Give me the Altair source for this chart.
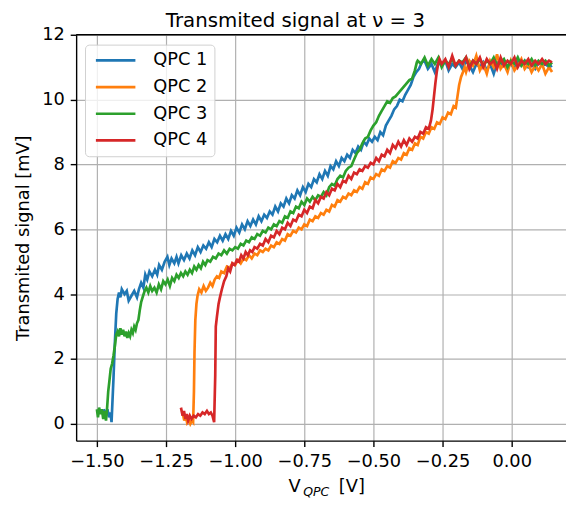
import altair as alt
import pandas as pd

SERIES = ["QPC 1", "QPC 2", "QPC 3", "QPC 4"]
COLORS = ["#1f77b4", "#ff7f0e", "#2ca02c", "#d62728"]
X_TICKS = [-1.5, -1.25, -1.0, -0.75, -0.5, -0.25, 0.0]
Y_TICKS = [0, 2, 4, 6, 8, 10, 12]
TITLE = "Transmited signal at ν = 3"

# ---- QPC 1 (blue) rising part ----
QPC1_V = [-1.475, -1.468, -1.462, -1.456, -1.451, -1.447, -1.440, -1.435, -1.430, -1.425,
          -1.420, -1.415, -1.410, -1.400, -1.392, -1.385, -1.375, -1.365, -1.355, -1.348,
          -1.340, -1.332, -1.325, -1.318, -1.310, -1.300, -1.290, -1.282, -1.275, -1.265,
          -1.255, -1.245, -1.238, -1.230, -1.220, -1.212, -1.205, -1.195, -1.185, -1.175,
          -1.165, -1.155, -1.145, -1.135, -1.125, -1.115, -1.105, -1.095, -1.085, -1.075,
          -1.065, -1.055, -1.045, -1.035, -1.025, -1.015, -1.005, -0.995, -0.985, -0.975,
          -0.965, -0.955, -0.945, -0.935, -0.925, -0.915, -0.905, -0.895, -0.885, -0.875,
          -0.865, -0.855, -0.845, -0.835, -0.825, -0.815, -0.805, -0.795, -0.785, -0.775,
          -0.765, -0.755, -0.745, -0.735, -0.725, -0.715, -0.705, -0.695, -0.685, -0.675,
          -0.665, -0.655, -0.645, -0.635, -0.625, -0.615, -0.605, -0.595, -0.585, -0.575,
          -0.565, -0.555, -0.545, -0.535, -0.525, -0.515, -0.505, -0.495, -0.485, -0.475,
          -0.465, -0.455, -0.445, -0.435, -0.425, -0.415, -0.405, -0.395, -0.385, -0.375,
          -0.365, -0.355, -0.345, -0.335, -0.325]
QPC1_S = [0.45, 0.25, 0.45, 0.20, 0.35, 0.05, 1.40, 2.50, 3.40, 3.85,
          4.05, 3.90, 4.15, 4.00, 4.10, 3.80, 3.95, 4.10, 3.90, 4.15,
          4.35, 4.20, 4.60, 4.45, 4.70, 4.55, 4.75, 4.60, 4.90, 4.75,
          5.00, 5.15, 4.90, 5.10, 4.95, 5.15, 4.95, 5.20, 5.05, 5.25,
          5.10, 5.35, 5.20, 5.45, 5.30, 5.50, 5.40, 5.60, 5.45, 5.70,
          5.60, 5.80, 5.65, 5.85, 5.70, 5.95, 5.80, 6.05, 5.90, 6.15,
          6.00, 6.25, 6.10, 6.30, 6.15, 6.40, 6.25, 6.45, 6.35, 6.55,
          6.45, 6.70, 6.55, 6.80, 6.70, 6.95, 6.80, 7.05, 6.95, 7.20,
          7.05, 7.30, 7.15, 7.40, 7.30, 7.55, 7.45, 7.70, 7.55, 7.80,
          7.65, 7.95, 7.85, 8.10, 7.95, 8.20, 8.10, 8.30, 8.20, 8.45,
          8.35, 8.55, 8.45, 8.70, 8.60, 8.80, 8.70, 8.85, 8.75, 9.00,
          8.90, 9.20, 9.35, 9.50, 9.70, 9.80, 10.00, 9.95, 10.15, 10.30,
          10.45, 10.70, 10.85, 10.95, 11.15]

# ---- QPC 2 (orange) rising part ----
QPC2_V = [-1.189, -1.184, -1.179, -1.174, -1.168, -1.162, -1.156, -1.152, -1.149, -1.147,
          -1.144, -1.140, -1.136, -1.130, -1.122, -1.114, -1.106, -1.098, -1.090, -1.082,
          -1.074, -1.066, -1.058, -1.050, -1.040, -1.030, -1.020, -1.010, -1.000, -0.990,
          -0.980, -0.970, -0.960, -0.950, -0.940, -0.930, -0.920, -0.910, -0.900, -0.890,
          -0.880, -0.870, -0.860, -0.850, -0.840, -0.830, -0.820, -0.810, -0.800, -0.790,
          -0.780, -0.770, -0.760, -0.750, -0.740, -0.730, -0.720, -0.710, -0.700, -0.690,
          -0.680, -0.670, -0.660, -0.650, -0.640, -0.630, -0.620, -0.610, -0.600, -0.590,
          -0.580, -0.570, -0.560, -0.550, -0.540, -0.530, -0.520, -0.510, -0.500, -0.490,
          -0.480, -0.470, -0.460, -0.450, -0.440, -0.430, -0.420, -0.410, -0.400, -0.390,
          -0.380, -0.370, -0.360, -0.350, -0.340, -0.330, -0.320, -0.310, -0.300, -0.290,
          -0.280, -0.270, -0.260, -0.250, -0.240, -0.230, -0.220, -0.210, -0.202, -0.196,
          -0.190, -0.183, -0.176, -0.170]
QPC2_S = [0.30, 0.10, 0.25, 0.05, 0.15, 0.00, 0.10, 0.05, 1.00, 2.20,
          3.20, 3.70, 3.95, 4.15, 4.05, 4.25, 4.10, 4.20, 4.35, 4.25,
          4.45, 4.55, 4.50, 4.70, 4.65, 4.85, 4.80, 4.95, 4.90, 5.05,
          4.95, 5.10, 5.05, 5.20, 5.10, 5.25, 5.20, 5.35, 5.30, 5.40,
          5.35, 5.50, 5.45, 5.60, 5.55, 5.70, 5.65, 5.85, 5.80, 5.95,
          5.90, 6.05, 6.00, 6.15, 6.10, 6.30, 6.25, 6.40, 6.35, 6.50,
          6.45, 6.60, 6.55, 6.75, 6.70, 6.90, 6.85, 7.00, 6.95, 7.10,
          7.05, 7.20, 7.15, 7.30, 7.25, 7.45, 7.40, 7.60, 7.55, 7.70,
          7.65, 7.85, 7.80, 7.95, 7.90, 8.10, 8.05, 8.20, 8.15, 8.35,
          8.30, 8.50, 8.45, 8.65, 8.60, 8.85, 8.80, 9.00, 8.95, 9.15,
          9.10, 9.30, 9.25, 9.45, 9.40, 9.60, 9.55, 9.80, 9.75, 10.10,
          10.45, 10.70, 10.85, 11.00]

# ---- QPC 3 (green) rising part ----
QPC3_V = [-1.500, -1.496, -1.492, -1.487, -1.482, -1.477, -1.472, -1.467, -1.463, -1.459,
          -1.455, -1.450, -1.445, -1.440, -1.435, -1.430, -1.425, -1.420, -1.415, -1.410,
          -1.405, -1.400, -1.395, -1.390, -1.385, -1.380, -1.375, -1.370, -1.365, -1.360,
          -1.355, -1.350, -1.345, -1.340, -1.333, -1.327, -1.321, -1.314, -1.307, -1.300,
          -1.292, -1.284, -1.276, -1.268, -1.260, -1.252, -1.244, -1.236, -1.228, -1.220,
          -1.212, -1.204, -1.196, -1.188, -1.180, -1.172, -1.164, -1.156, -1.148, -1.140,
          -1.132, -1.124, -1.116, -1.108, -1.100, -1.090, -1.080, -1.070, -1.060, -1.050,
          -1.040, -1.030, -1.020, -1.010, -1.000, -0.990, -0.980, -0.970, -0.960, -0.950,
          -0.940, -0.930, -0.920, -0.910, -0.900, -0.890, -0.880, -0.870, -0.860, -0.850,
          -0.840, -0.830, -0.820, -0.810, -0.800, -0.790, -0.780, -0.770, -0.760, -0.750,
          -0.740, -0.730, -0.720, -0.710, -0.700, -0.690, -0.680, -0.670, -0.660, -0.650,
          -0.640, -0.630, -0.620, -0.610, -0.600, -0.590, -0.580, -0.570, -0.560, -0.550,
          -0.540, -0.530, -0.520, -0.510, -0.500, -0.490, -0.480, -0.470, -0.460, -0.450,
          -0.440, -0.430, -0.420, -0.410, -0.400, -0.390, -0.380, -0.370, -0.360, -0.350,
          -0.343]
QPC3_S = [0.45, 0.20, 0.50, 0.30, 0.45, 0.15, 0.40, 0.10, 0.50, 1.00,
          1.30, 1.70, 1.85, 2.10, 2.40, 2.75, 2.85, 2.70, 2.95, 2.75,
          2.90, 2.70, 2.85, 2.65, 2.80, 2.70, 2.90, 2.80, 3.00, 2.90,
          3.10, 3.20, 3.50, 3.75, 3.95, 4.10, 4.20, 4.05, 4.25, 4.10,
          4.20, 4.05, 4.30, 4.15, 4.40, 4.30, 4.45, 4.25, 4.50, 4.40,
          4.60, 4.50, 4.65, 4.55, 4.70, 4.60, 4.75, 4.65, 4.85, 4.75,
          4.90, 4.80, 5.00, 4.90, 5.05, 5.00, 5.15, 5.10, 5.25, 5.20,
          5.35, 5.25, 5.40, 5.35, 5.45, 5.40, 5.55, 5.50, 5.65, 5.60,
          5.75, 5.70, 5.85, 5.80, 5.95, 5.90, 6.05, 6.00, 6.15, 6.10,
          6.25, 6.20, 6.40, 6.35, 6.55, 6.50, 6.70, 6.65, 6.85, 6.75,
          6.95, 6.85, 7.00, 6.90, 7.05, 7.00, 7.15, 7.05, 7.30, 7.40,
          7.35, 7.55, 7.65, 7.60, 7.80, 7.90, 7.95, 8.15, 8.35, 8.45,
          8.65, 8.80, 8.85, 9.05, 9.20, 9.30, 9.50, 9.65, 9.80, 9.95,
          9.90, 10.05, 10.10, 10.20, 10.30, 10.40, 10.50, 10.60, 10.65, 10.90,
          11.15]

# ---- QPC 4 (red) rising part ----
QPC4_V = [-1.196, -1.190, -1.185, -1.180, -1.175, -1.170, -1.164, -1.158, -1.150, -1.142,
          -1.134, -1.126, -1.118, -1.110, -1.102, -1.095, -1.088, -1.082, -1.076, -1.072,
          -1.070, -1.066, -1.060, -1.055, -1.048, -1.040, -1.032, -1.025, -1.018, -1.010,
          -1.002, -0.994, -0.986, -0.978, -0.970, -0.962, -0.954, -0.946, -0.938, -0.930,
          -0.920, -0.910, -0.900, -0.890, -0.880, -0.870, -0.860, -0.850, -0.840, -0.830,
          -0.820, -0.810, -0.800, -0.790, -0.780, -0.770, -0.760, -0.750, -0.740, -0.730,
          -0.720, -0.710, -0.700, -0.690, -0.680, -0.670, -0.660, -0.650, -0.640, -0.630,
          -0.620, -0.610, -0.600, -0.590, -0.580, -0.570, -0.560, -0.550, -0.540, -0.530,
          -0.520, -0.510, -0.500, -0.490, -0.480, -0.470, -0.460, -0.450, -0.440, -0.430,
          -0.420, -0.410, -0.400, -0.390, -0.380, -0.370, -0.360, -0.350, -0.340, -0.330,
          -0.320, -0.310, -0.300, -0.292, -0.286, -0.281, -0.276, -0.271, -0.266, -0.261]
QPC4_S = [0.50, 0.25, 0.40, 0.15, 0.30, 0.10, 0.25, 0.15, 0.25, 0.20,
          0.30, 0.25, 0.35, 0.30, 0.40, 0.30, 0.35, 0.25, 0.05, 1.50,
          3.00, 3.30, 3.70, 3.90, 4.15, 4.40, 4.55, 4.80, 4.70, 4.95,
          4.90, 5.05, 5.00, 5.20, 5.10, 5.30, 5.20, 5.35, 5.30, 5.45,
          5.40, 5.55, 5.50, 5.70, 5.60, 5.80, 5.75, 5.95, 5.85, 6.05,
          6.00, 6.20, 6.10, 6.30, 6.25, 6.45, 6.40, 6.60, 6.50, 6.70,
          6.65, 6.90, 6.80, 7.00, 6.95, 7.15, 7.05, 7.25, 7.20, 7.40,
          7.30, 7.50, 7.45, 7.65, 7.55, 7.75, 7.70, 7.85, 7.80, 7.95,
          7.90, 8.05, 8.00, 8.20, 8.10, 8.30, 8.25, 8.45, 8.35, 8.60,
          8.50, 8.70, 8.55, 8.75, 8.60, 8.80, 8.70, 8.85, 8.80, 9.00,
          8.95, 9.15, 9.10, 9.35, 9.70, 10.10, 10.50, 10.85, 11.10, 11.25]

# ---- saturated plateau (common x grid, one row of readings per series) ----
PLATEAU_V = [-0.340, -0.328, -0.315, -0.303, -0.290, -0.278, -0.265, -0.253, -0.240, -0.228,
             -0.215, -0.203, -0.190, -0.178, -0.165, -0.153, -0.140, -0.128, -0.115, -0.103,
             -0.090, -0.078, -0.065, -0.053, -0.040, -0.028, -0.015, -0.003, 0.010, 0.022,
             0.035, 0.047, 0.060, 0.072, 0.085, 0.097, 0.110, 0.122, 0.135, 0.146]
QPC1_P = [11.15, 11.00, 11.20, 10.95, 11.10, 10.85, 11.15, 11.05, 11.20, 10.90,
          11.10, 11.00, 11.15, 10.95, 11.20, 11.05, 10.85, 11.10, 11.00, 11.15,
          10.90, 11.10, 10.80, 11.15, 11.05, 11.20, 11.00, 11.10, 10.95, 11.15,
          11.05, 11.20, 11.00, 11.10, 10.95, 11.15, 11.05, 11.10, 11.00, 11.05]
QPC2_P = [11.00, 11.10, 10.90, 11.05, 10.95, 11.10, 10.90, 11.05, 11.00, 11.10,
          10.95, 11.05, 10.90, 11.10, 10.85, 11.20, 11.05, 11.35, 10.90, 11.10,
          10.80, 11.20, 11.00, 11.40, 10.95, 11.10, 10.85, 11.20, 10.90, 11.05,
          11.25, 10.95, 11.10, 10.85, 11.05, 10.90, 11.10, 10.80, 11.00, 10.85]
QPC3_P = [11.20, 11.10, 11.30, 11.05, 11.25, 11.10, 11.30, 11.00, 11.20, 11.10,
          11.25, 11.05, 11.20, 11.15, 11.30, 11.00, 11.20, 11.10, 11.25, 11.05,
          11.20, 11.10, 11.30, 11.05, 11.15, 11.25, 11.00, 11.20, 11.10, 11.30,
          11.05, 11.20, 11.10, 11.25, 11.05, 11.20, 11.10, 11.20, 11.05, 11.15]
QPC4_P = [11.20, 11.10, 11.30, 11.05, 11.25, 11.00, 11.30, 11.10, 11.25, 11.00,
          11.35, 11.05, 11.20, 11.10, 11.30, 10.95, 11.20, 11.10, 11.30, 11.00,
          11.25, 11.10, 11.20, 10.95, 11.30, 11.05, 11.20, 11.10, 11.30, 11.00,
          11.20, 11.10, 11.25, 11.05, 11.20, 11.10, 11.25, 11.10, 11.20, 11.15]

rows = []
for name, vs, ss, ps in [("QPC 1", QPC1_V, QPC1_S, QPC1_P),
                         ("QPC 2", QPC2_V, QPC2_S, QPC2_P),
                         ("QPC 3", QPC3_V, QPC3_S, QPC3_P),
                         ("QPC 4", QPC4_V, QPC4_S, QPC4_P)]:
    pts = list(zip(vs, ss)) + [(v, s) for v, s in zip(PLATEAU_V, ps) if v > vs[-1]]
    for i, (v, s) in enumerate(pts):
        rows.append({"series": name, "v": v, "s": s, "i": i})
df = pd.DataFrame(rows)

W, H = 496, 411
FONT = "DejaVu Sans"

x_scale = alt.Scale(domain=[-1.575, 0.1964], nice=False, zero=False)
y_scale = alt.Scale(domain=[-0.52, 12.0], nice=False, zero=False)

lines = alt.Chart(df).mark_line(strokeWidth=2.7, clip=True).encode(
    x=alt.X("v:Q", scale=x_scale,
            axis=alt.Axis(values=X_TICKS, format=".2f", title=None)),
    y=alt.Y("s:Q", scale=y_scale,
            axis=alt.Axis(values=Y_TICKS, format="d", title="Transmited signal [mV]",
                          titlePadding=9)),
    color=alt.Color("series:N", scale=alt.Scale(domain=SERIES, range=COLORS),
                    legend=alt.Legend(title=None, orient="none", legendX=9, legendY=10,
                                      symbolType="M-1,0L7,0", symbolSize=100,
                                      symbolStrokeWidth=2.7, labelFontSize=18,
                                      labelFont=FONT, labelColor="black",
                                      labelOffset=44, padding=7, rowPadding=9,
                                      fillColor="rgba(255,255,255,0.8)",
                                      strokeColor="#d0d0d0", cornerRadius=4)),
    order="i:Q",
)

anchor = pd.DataFrame({"a": [0]})
top_spine = alt.Chart(anchor).mark_rule(color="black", strokeWidth=1.4).encode(
    x=alt.value(0), x2=alt.value(W), y=alt.value(0))

title_txt = alt.Chart(anchor).mark_text(text=TITLE, align="center", baseline="alphabetic",
                                        font=FONT, fontSize=20, color="black").encode(
    x=alt.value(222), y=alt.value(-8))

xt_v = alt.Chart(anchor).mark_text(text="V", align="left", baseline="alphabetic",
                                   font=FONT, fontSize=18, color="black").encode(
    x=alt.value(215), y=alt.value(463))
xt_sub = alt.Chart(anchor).mark_text(text="QPC", align="left", baseline="alphabetic",
                                     font=FONT, fontSize=12.6, fontStyle="italic",
                                     color="black").encode(
    x=alt.value(230), y=alt.value(467))
xt_unit = alt.Chart(anchor).mark_text(text="[V]", align="left", baseline="alphabetic",
                                      font=FONT, fontSize=18, color="black").encode(
    x=alt.value(266), y=alt.value(463))

chart = alt.layer(lines, top_spine, title_txt, xt_v, xt_sub, xt_unit).properties(
    width=W, height=H,
    autosize=alt.AutoSizeParams(type="none"),
    padding={"left": 69, "top": 24, "right": 0, "bottom": 60},
).configure_view(stroke=None).configure_axis(
    domainColor="black", domainWidth=1.4, tickColor="black", tickWidth=1.4,
    tickSize=6, labelFont=FONT, labelFontSize=18, labelColor="black",
    labelPadding=6, titleFont=FONT, titleFontSize=18, titleFontWeight="normal",
    titleColor="black", grid=True, gridColor="#b0b0b0", gridWidth=1.2,
)

chart.save("out.html", embed_options={"renderer": "svg", "actions": False})
